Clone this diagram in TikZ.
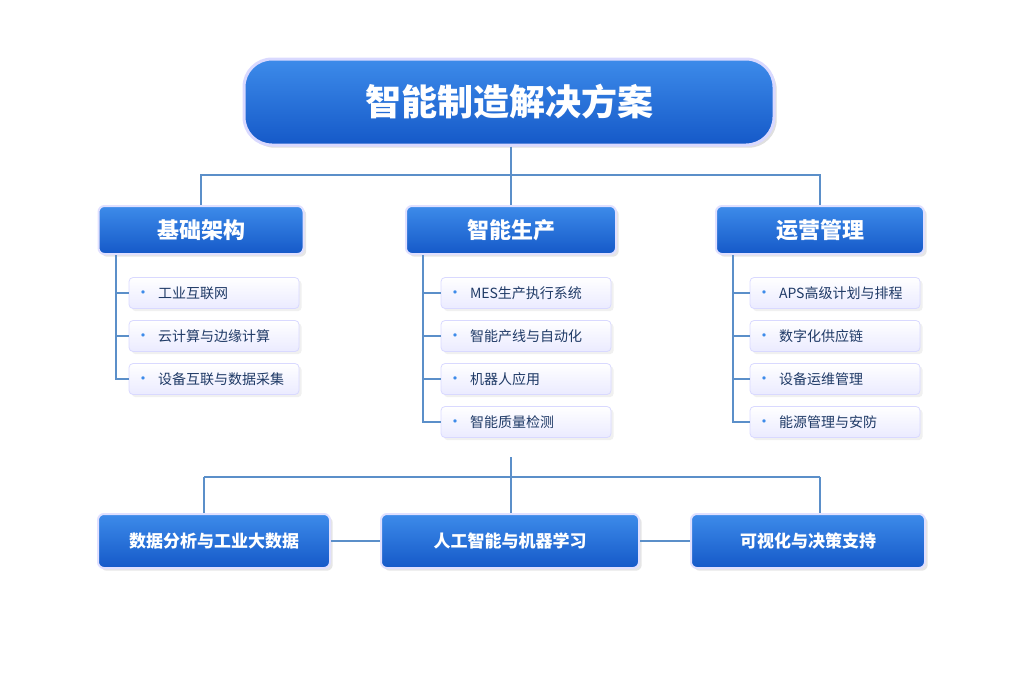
\documentclass[tikz,border=0pt]{standalone}
\usepackage{fontspec}
\setmainfont{Noto Sans CJK SC}
\usetikzlibrary{positioning,shadows}
\definecolor{deepblue}{HTML}{1559C8}
\definecolor{lightblue}{HTML}{3D8BEA}
\definecolor{linkblue}{HTML}{5B8FC9}
\definecolor{itemtext}{HTML}{1F3A66}
\tikzstyle{title box}=[rounded corners=28pt,top color=lightblue,bottom color=deepblue,draw=blue!15,line width=3pt,text=white,font=\bfseries\fontsize{36}{36}\selectfont,minimum width=530pt,minimum height=86pt,drop shadow={opacity=0.25}]
\tikzstyle{head box}=[rounded corners=6pt,top color=lightblue,bottom color=deepblue,draw=blue!12,line width=2pt,text=white,font=\bfseries\fontsize{22}{22}\selectfont,minimum height=48pt,drop shadow={opacity=0.2}]
\tikzstyle{foot box}=[head box,minimum height=54pt,font=\bfseries\fontsize{17}{17}\selectfont]
\tikzstyle{item}=[rounded corners=4pt,top color=white,bottom color=blue!8,draw=blue!15,line width=0.8pt,text=itemtext,font=\fontsize{14}{14}\selectfont,minimum height=31pt,text width=158pt,inner xsep=6pt,align=left,drop shadow={opacity=0.12}]
\tikzstyle{link}=[draw=linkblue,line width=2pt]
\newcommand{\dotmark}{\textcolor{lightblue}{\fontsize{16}{14}\selectfont•}\hspace{7pt}}
\begin{document}
\begin{tikzpicture}[x=1pt,y=-1pt]
  \useasboundingbox (0,0) rectangle (1024,683);
  % title and branches
  \node[title box] (title) at (509,102) {智能制造解决方案};
  \foreach \pos/\name/\w/\txt in {{(201,230)/base/205/基础架构}, {(511,230)/prod/210/智能生产}, {(820,230)/ops/208/运营管理}}
    \node[head box,minimum width=\w pt] (\name) at \pos {\txt};
  % items under each branch
  \foreach \x/\name/\lx/\list in {
      214/base/116/{工业互联网,云计算与边缘计算,设备互联与数据采集},
      526/prod/423/{MES生产执行系统,智能产线与自动化,机器人应用,智能质量检测},
      835/ops/733/{APS高级计划与排程,数字化供应链,设备运维管理,能源管理与安防}}
  {
    \coordinate (\name top) at (\lx,255);
    \foreach \txt [count=\i] in \list {
      \node[item] (\name\i) at (\x,250+43*\i) {\mbox{\dotmark\txt}};
      \draw[link] (\name top) |- (\name\i.west);
    }
  }
  % bottom row
  \node[foot box,minimum width=232pt] (data) at (214,541) {数据分析与工业大数据};
  \node[foot box,minimum width=258pt] (ai) at (510,541) {人工智能与机器学习};
  \node[foot box,minimum width=234pt] (vis) at (808,541) {可视化与决策支持};
  \coordinate (mid) at (511,457);
  \coordinate (split) at (511,477);
  \coordinate (top split) at (511,175);
  \coordinate (left drop) at (204,477);
  \coordinate (right drop) at (820,477);
  \draw[link] (top split |- title.south) -- (top split);
  \foreach \dest in {base,prod,ops}
    \draw[link] (top split) -| (\dest.north);
  \draw[link] (mid) -- (split);
  \draw[link] (left drop) -- (right drop);
  \draw[link] (left drop) -- (left drop |- data.north);
  \draw[link] (right drop) -- (right drop |- vis.north);
  \draw[link] (split) -- (split |- ai.north);
  \draw[link] (data) -- (ai);
  \draw[link] (ai) -- (vis);
\end{tikzpicture}
\end{document}
